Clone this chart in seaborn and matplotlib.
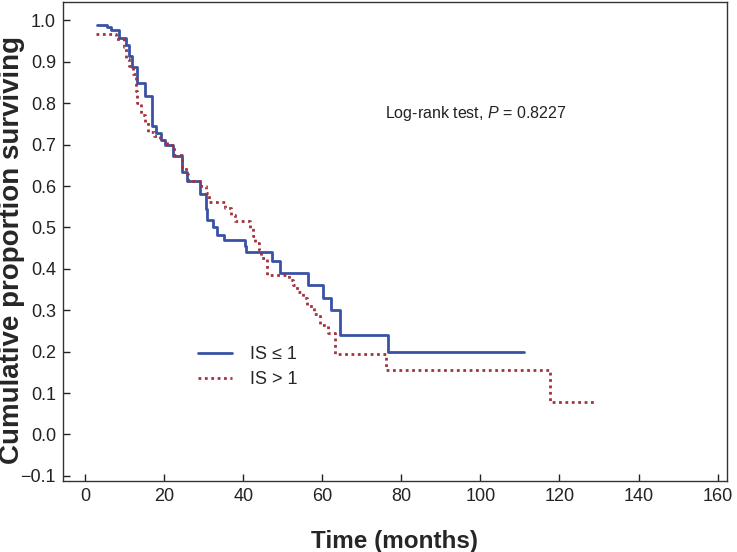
import numpy as np
import pandas as pd
import matplotlib
matplotlib.use("Agg")
import matplotlib.pyplot as plt
import seaborn as sns

# Kaplan-Meier step data
times_low = [3.0, 5.6, 6.5, 8.6, 10.3, 11.1, 11.9, 13.1, 15.1, 16.8,
             18.0, 19.1, 20.1, 22.3, 24.6, 25.8, 29.0, 30.5, 30.9, 32.3,
             33.4, 35.1, 40.4, 40.8, 47.3, 49.2, 56.4, 60.2, 62.3, 64.4,
             76.5, 110.9]
surv_low = [0.99, 0.984, 0.978, 0.958, 0.94, 0.914, 0.888, 0.848, 0.818, 0.745,
            0.728, 0.712, 0.70, 0.672, 0.635, 0.613, 0.58, 0.545, 0.518, 0.50,
            0.482, 0.47, 0.455, 0.44, 0.42, 0.39, 0.36, 0.33, 0.30, 0.24,
            0.20, 0.20]

times_high = [2.8, 7.7, 9.9, 10.3, 11.1, 12.1, 12.8, 13.2, 14.1, 15.2,
              16.0, 17.4, 19.0, 20.8, 22.5, 24.6, 25.4, 26.1, 29.3, 30.6,
              31.4, 35.5, 36.8, 38.0, 41.8, 42.4, 43.0, 43.9, 44.6, 46.0,
              51.5, 52.5, 53.6, 55.0, 56.1, 57.8, 59.3, 61.5, 63.3, 76.2,
              117.7, 128.8]
surv_high = [0.968, 0.955, 0.935, 0.908, 0.89, 0.87, 0.83, 0.80, 0.772, 0.755,
             0.73, 0.722, 0.712, 0.70, 0.675, 0.645, 0.628, 0.612, 0.60, 0.582,
             0.562, 0.548, 0.53, 0.515, 0.498, 0.48, 0.462, 0.445, 0.425, 0.385,
             0.372, 0.36, 0.345, 0.33, 0.31, 0.29, 0.265, 0.245, 0.195, 0.155,
             0.078, 0.078]

labels = ["IS \u2264 1", "IS > 1"]
colors = ["#3a52a6", "#a3323c"]

x_ticks = [0, 20, 40, 60, 80, 100, 120, 140, 160]
y_ticks = [-0.1, 0.0, 0.1, 0.2, 0.3, 0.4, 0.5, 0.6, 0.7, 0.8, 0.9, 1.0]

sns.set_style("white")
plt.rcParams["font.family"] = ["Liberation Sans", "DejaVu Sans"]
plt.rcParams["mathtext.fontset"] = "custom"
plt.rcParams["mathtext.it"] = "Liberation Sans:italic"
plt.rcParams["mathtext.rm"] = "Liberation Sans"

fig = plt.figure(figsize=(7.37, 5.52), dpi=100)
ax = fig.add_axes([0.0855, 0.129, 0.9005, 0.867])

low = pd.DataFrame({"time": times_low, "surv": surv_low})
high = pd.DataFrame({"time": times_high, "surv": surv_high})

sns.lineplot(data=low, x="time", y="surv", ax=ax, color=colors[0],
             linewidth=2.0, drawstyle="steps-post", label=labels[0])
sns.lineplot(data=high, x="time", y="surv", ax=ax, color=colors[1],
             linewidth=2.0, drawstyle="steps-post", label=labels[1],
             linestyle=(0, (1, 1.3)))

ax.set_xlim(-5.6, 162.3)
ax.set_ylim(-0.112, 1.044)
ax.set_xticks(x_ticks)
ax.set_yticks(y_ticks)
ax.set_xticklabels([str(t) for t in x_ticks])
ax.set_yticklabels(["\u22120.1"] + [f"{t:.1f}" for t in y_ticks[1:]])
ax.tick_params(direction="in", length=5, width=1, labelsize=13,
               colors="#222222", bottom=True, left=True, top=False, right=False,
               pad=5)
for sp in ax.spines.values():
    sp.set_color("#333333")
    sp.set_linewidth(1.0)

ax.set_xlabel("Time (months)", fontsize=17.5, fontweight="bold")
ax.set_ylabel("Cumulative proportion surviving", fontsize=20,
              fontweight="bold")
ax.xaxis.set_label_coords(0.5, -0.126)
ax.xaxis.label.set_va("center")
ax.yaxis.set_label_coords(-0.057, 0.482)

ax.text(75.8, 0.776, r"Log-rank test, $\it{P}$ = 0.8227", fontsize=11.5,
        va="center", ha="left", color="#222222")

leg = ax.legend(loc="center left", bbox_to_anchor=(0.179, 0.238), frameon=False,
                fontsize=13, handlelength=1.9, handletextpad=1.0,
                labelspacing=0.45)

fig.savefig("out.png", dpi=100)
